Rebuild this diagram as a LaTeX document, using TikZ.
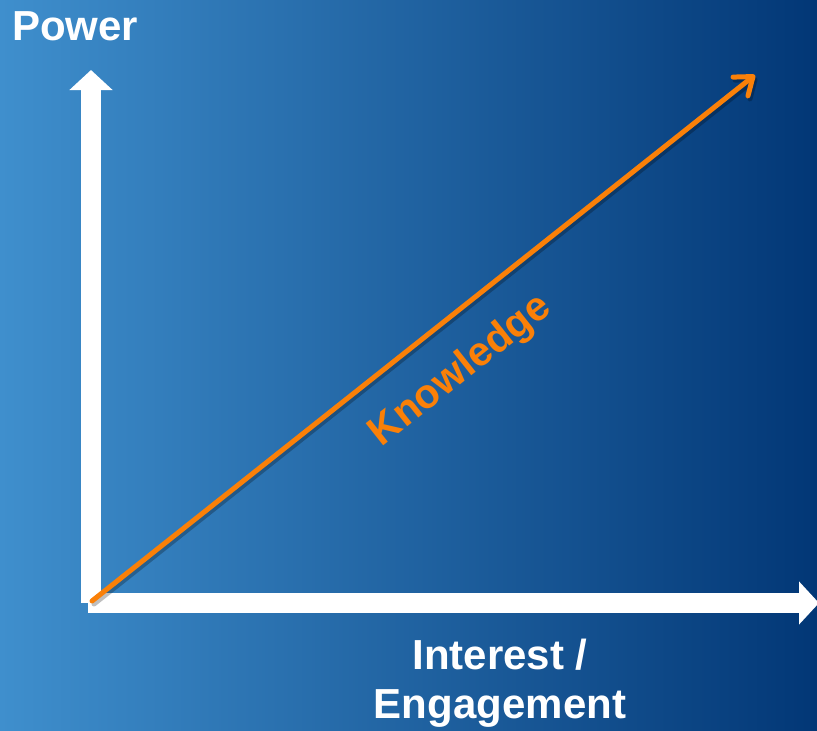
\documentclass[tikz,border=0pt]{standalone}
\usepackage{fontspec}
\setmainfont{Liberation Sans}
\usetikzlibrary{arrows.meta}
\definecolor{bgleft}{RGB}{63,143,205}
\definecolor{bgmid}{RGB}{10,96,170}
\definecolor{bgright}{RGB}{2,55,118}
\definecolor{knoworange}{RGB}{250,128,8}
\tikzset{
  axisarrow/.style={draw=white, line width=20pt, line cap=butt,
    -{Triangle[length=20pt, width=42pt]}},
  knowline/.style={draw=knoworange, line width=5pt, line cap=round,
    -{Straight Barb[length=16pt, width=24pt, round]}},
  knowshadow/.style={draw=black, opacity=0.25, line width=5pt, line cap=round,
    -{Straight Barb[length=16pt, width=24pt, round]}},
  label/.style={text=white, font=\bfseries\fontsize{42}{50}\selectfont, inner sep=0pt},
  knowlabel/.style={text=knoworange, font=\bfseries\fontsize{41}{48}\selectfont, inner sep=0pt}
}
\begin{document}
\begin{tikzpicture}[x=1pt, y=-1pt]
  % gradient backdrop
  \shade[left color=bgleft, middle color=bgmid, right color=bgright]
    (0,0) rectangle (817,731);
  \useasboundingbox (0,0) rectangle (817,731);
  \clip (0,0) rectangle (817,731);

  % axis end points
  \coordinate (vbase) at (91,603);
  \coordinate (ytip)  at (91,70);
  \coordinate (hbase) at (88,603);
  \coordinate (xtip)  at (819,603);
  \coordinate (korig) at (92,601);
  \coordinate (ktip)  at (755,75);

  % axes
  \draw[axisarrow] (vbase) -- (ytip);
  \draw[axisarrow] (hbase) -- (xtip);

  % knowledge diagonal with a soft drop shadow
  \draw[knowshadow] ([shift={(2,3)}]korig) -- ([shift={(2,3)}]ktip);
  \draw[knowline] (korig) -- (ktip);

  % labels
  \node[label, anchor=base west] (power) at (12,40) {Power};
  \node[label, anchor=base] (interest) at (500,669) {Interest /};
  \node[label, anchor=base] (engage) at (500,718) {Engagement};
  \node[knowlabel, rotate=38.4] (know) at (461,371) {Knowledge};
\end{tikzpicture}
\end{document}
